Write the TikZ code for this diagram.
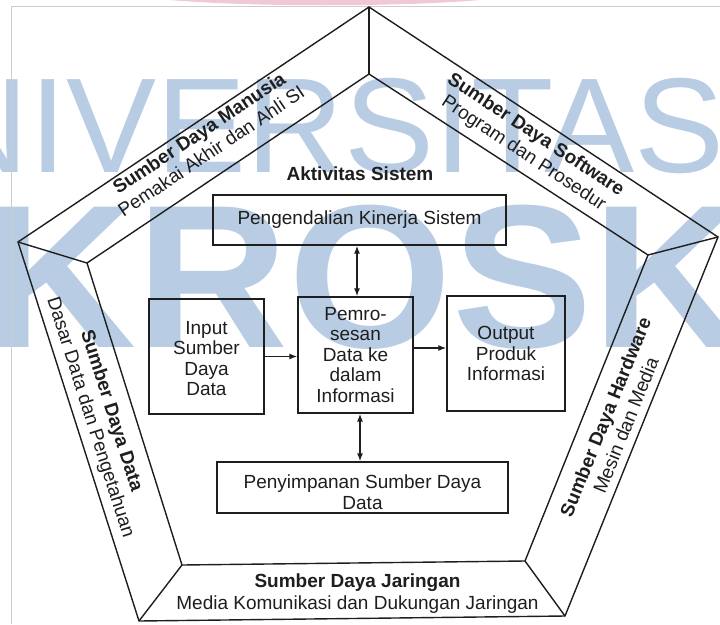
\documentclass[tikz,border=0pt]{standalone}
\usepackage{fontspec}
\setmainfont{Liberation Sans}
\usetikzlibrary{arrows.meta}

\definecolor{ink}{RGB}{30,30,30}
\definecolor{wmblue}{RGB}{184,204,228}
\definecolor{framegray}{RGB}{205,205,205}
\definecolor{logopink}{RGB}{240,200,214}

\begin{document}
\begin{tikzpicture}[x=1pt,y=-1pt,
  txt/.style={font=\fontsize{19}{20.5}\selectfont, text=ink},
  box/.style={draw=ink, line width=1.4pt, inner sep=0pt, align=center, txt},
  rim/.style={draw=ink, line width=1.4pt, line join=miter},
  band/.style={align=center, inner sep=0pt, font=\fontsize{19}{22}\selectfont, text=ink},
  tip/.tip={Latex[length=8pt,width=6pt]},
  link/.style={draw=ink, line width=1.2pt, -tip},
  twoway/.style={draw=ink, line width=1.2pt, tip-tip},
]
\useasboundingbox (0,0) rectangle (720,624);

% repository watermark and logo edge
\node[anchor=base west, inner sep=0pt, text=wmblue,
      font=\fontsize{135}{135}\selectfont] (wmtop) at (-68.5,172) {NIVERSITAS};
\node[anchor=base west, inner sep=0pt, text=wmblue, xscale=1.032,
      font=\fontsize{204}{204}\selectfont\bfseries] (wmbottom) at (-15.5,347) {KROSK};
\fill[logopink] (170,0) .. controls (250,7) and (400,7) .. (480,0) -- cycle;

% page frame
\draw[framegray, line width=0.8pt] (11,624) -- (11,6) -- (720,6);

% outer and inner pentagon
\coordinate (T)  at (369,7);
\coordinate (R)  at (718,237);
\coordinate (BR) at (565,616);
\coordinate (BL) at (139,621);
\coordinate (L)  at (18,242);
\coordinate (t)  at (369,74);
\coordinate (r)  at (648,255);
\coordinate (br) at (525,561);
\coordinate (bl) at (182,565);
\coordinate (l)  at (87,263);
\draw[rim] (T) -- (R) -- (BR) -- (BL) -- (L) -- cycle;
\draw[rim] (t) -- (r) -- (br) -- (bl) -- (l) -- cycle;
\foreach \a/\b in {T/t,R/r,BR/br,BL/bl,L/l} \draw[rim] (\a) -- (\b);

% resource bands
\node[band, rotate=33.8] (manusia) at (205,142)
  {\textbf{Sumber Daya Manusia}\\Pemakai Akhir dan Ahli SI};
\node[band, rotate=-33.4] (software) at (529.5,144.5)
  {\textbf{Sumber Daya Software}\\Program dan Prosedur};
\node[band, rotate=-72.3] (datares) at (100.5,414.5)
  {\textbf{Sumber Daya Data}\\Dasar Data dan Pengetahuan};
\node[band, rotate=68] (hardware) at (615.5,421)
  {\textbf{Sumber Daya Hardware}\\Mesin dan Media};
\node[band] (jaringan) at (357.5,594)
  {\textbf{Sumber Daya Jaringan}\\Media Komunikasi dan Dukungan Jaringan};

% system activities
\node[txt, font=\fontsize{19}{21}\selectfont\bfseries] (aktivitas) at (360,174) {Aktivitas Sistem};
\node[box, minimum width=293pt, minimum height=50pt] (ctrl) at (359.5,220) {Pengendalian Kinerja Sistem};
\node[box, minimum width=115pt, minimum height=115pt,
      label={[txt, align=center, yshift=-2pt]center:Input\\Sumber\\Daya\\Data}] (inp) at (206.5,356.5) {};
\node[box, minimum width=115pt, minimum height=116pt] (proc) at (355.5,355) {Pemro-\\sesan\\Data ke\\dalam\\Informasi};
\node[box, minimum width=118pt, minimum height=115pt] (outp) at (506,353.5) {Output\\Produk\\Informasi};
\node[box, minimum width=291pt, minimum height=51pt,
      label={[txt, align=center, yshift=-4.5pt]center:Penyimpanan Sumber Daya\\Data}] (store) at (362.5,487.5) {};

\draw[link] (inp.east) -- (inp.east -| proc.west);
\coordinate (pe) at ([yshift=7pt]proc.east);
\draw[link] (pe) -- (pe -| outp.west);
\coordinate (pn) at ([xshift=1.5pt]proc.north);
\draw[twoway] (pn |- ctrl.south) -- (pn);
\coordinate (ps) at ([xshift=4.5pt]proc.south);
\draw[twoway] (ps) -- (ps |- store.north);
\end{tikzpicture}
\end{document}
